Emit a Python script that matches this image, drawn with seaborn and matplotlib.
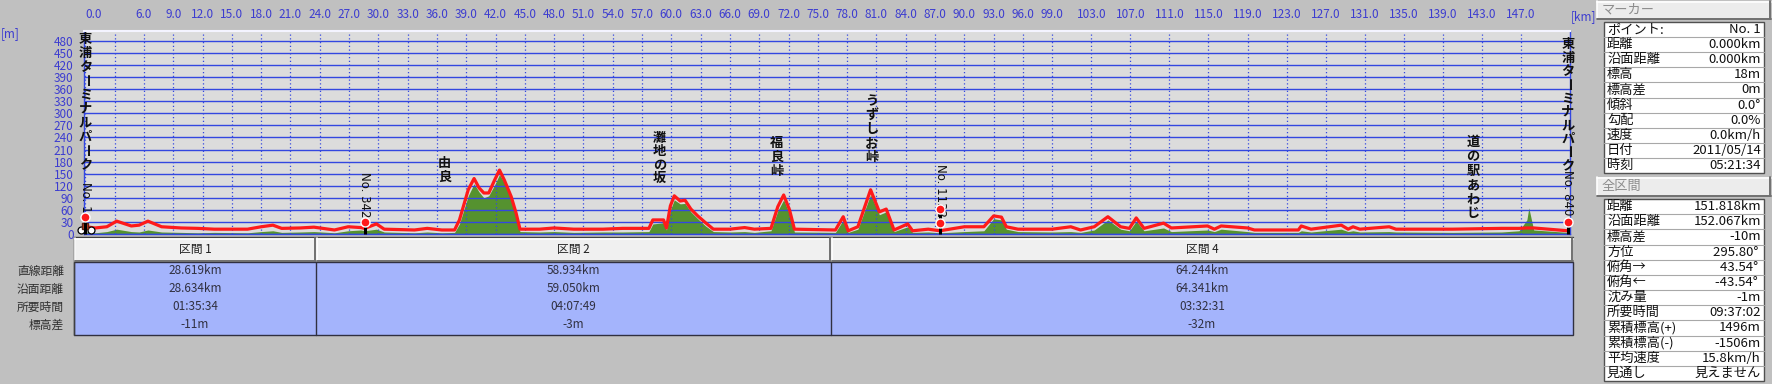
import numpy as np
import pandas as pd
import matplotlib
matplotlib.use("Agg")
import matplotlib.pyplot as plt
import seaborn as sns
from matplotlib.patches import Rectangle
from matplotlib.transforms import blended_transform_factory

# ---------------- data ----------------
dist_km = [0.0, 1.0, 2.2, 3.2, 4.7, 5.5, 6.4, 7.8, 9.8, 11.5,
           13.2, 16.6, 18.0, 19.2, 20.1, 22.0, 23.4, 24.9, 25.5, 26.9,
           28.2, 28.6, 29.8, 30.6, 33.7, 35.0, 36.5, 37.8, 38.3, 39.2,
           39.8, 40.3, 40.8, 41.3, 41.9, 42.4, 42.9, 43.6, 44.1, 44.5,
           46.5, 48.0, 50.0, 53.0, 55.0, 57.7, 58.1, 59.2, 59.5, 59.9,
           60.3, 60.9, 61.4, 62.0, 62.7, 63.5, 64.3, 66.0, 67.5, 68.5,
           70.2, 70.9, 71.5, 72.1, 72.6, 76.8, 77.6, 78.1, 79.1, 80.4,
           81.3, 82.0, 82.8, 84.2, 84.7, 86.3, 87.5, 90.0, 92.0, 93.0,
           93.8, 94.3, 95.5, 99.0, 100.9, 101.9, 103.3, 104.7, 106.0, 106.9,
           107.6, 108.4, 110.4, 111.2, 114.9, 115.6, 116.3, 119.0, 119.7, 124.2,
           124.5, 125.5, 128.6, 129.3, 129.8, 130.5, 133.5, 134.2, 140.0, 145.0,
           146.8, 147.6, 147.8, 148.3, 151.8]
track_elev_m = [18, 15, 18, 32, 20, 22, 32, 18, 15, 14,
                12, 12, 18, 22, 14, 15, 17, 12, 10, 18,
                16, 14, 25, 12, 10, 14, 10, 10, 35, 110,
                138, 115, 102, 102, 134, 159, 134, 93, 52, 12,
                12, 15, 12, 12, 14, 14, 35, 35, 15, 70,
                95, 82, 84, 62, 45, 28, 12, 12, 16, 12,
                14, 68, 97, 60, 12, 10, 43, 8, 18, 110,
                55, 62, 10, 25, 8, 12, 8, 18, 18, 45,
                42, 18, 12, 12, 18, 10, 18, 43, 18, 14,
                40, 14, 27, 15, 20, 12, 20, 15, 10, 10,
                20, 12, 22, 12, 18, 12, 18, 12, 12, 14,
                14, 15, 15, 15, 8]
dem_elev_m = [5, 3, 6, 12, 6, 5, 10, 5, 4, 3,
              4, 3, 6, 8, 4, 5, 6, 4, 3, 8,
              10, 8, 12, 5, 3, 5, 3, 4, 25, 95,
              125, 105, 90, 95, 122, 148, 128, 85, 40, 6,
              5, 6, 4, 5, 5, 6, 25, 28, 10, 60,
              85, 75, 76, 55, 38, 20, 6, 5, 6, 4,
              8, 58, 85, 50, 5, 4, 35, 4, 12, 98,
              48, 55, 6, 18, 4, 5, 3, 6, 8, 38,
              35, 12, 6, 5, 6, 4, 10, 35, 12, 8,
              32, 8, 15, 6, 10, 6, 12, 6, 4, 4,
              8, 5, 12, 6, 8, 5, 6, 5, 4, 5,
              8, 35, 65, 10, 4]

xtick_km = [0, 3, 6, 9, 12, 15, 18, 21, 24, 27, 30, 33, 36, 39, 42, 45, 48, 51, 54,
            57, 60, 63, 66, 69, 72, 75, 78, 81, 84, 87, 90, 93, 96, 99,
            103, 107, 111, 115, 119, 123, 127, 131, 135, 139, 143, 147]
xtick_labels = ["0.0", ""] + [f"{v:.1f}" for v in xtick_km[2:]]
ytick_m = list(range(0, 481, 30))

landmark_names = ["東浦ターミナルパーク", "由良", "灘地の坂", "福良峠", "うずしお峠",
                  "道の駅あわじ", "東浦ターミナルパーク"]
landmark_km = [0.0, 36.8, 58.8, 70.8, 80.5, 142.1, 151.8]

point_names = ["No. 1", "No. 342", "No. 1132", "No. 840"]
section_names = ["区間 1", "区間 2", "区間 4"]
section_dist = ["28.619km", "58.934km", "64.244km"]
section_surface = ["28.634km", "59.050km", "64.341km"]
section_time = ["01:35:34", "04:07:49", "03:32:31"]
section_elev_diff = ["-11m", "-3m", "-32m"]
section_km = [28.619, 58.934, 64.244]
row_labels = ["直線距離", "沿面距離", "所要時間", "標高差"]

marker_labels = ["ポイント:", "距離", "沿面距離", "標高", "標高差", "傾斜", "勾配",
                 "速度", "日付", "時刻"]
marker_values = ["No. 1", "0.000km", "0.000km", "18m", "0m", "0.0°", "0.0%",
                 "0.0km/h", "2011/05/14", "05:21:34"]
total_labels = ["距離", "沿面距離", "標高差", "方位", "俯角→", "俯角←", "沈み量",
                "所要時間", "累積標高(+)", "累積標高(-)", "平均速度", "見通し"]
total_values = ["151.818km", "152.067km", "-10m", "295.80° ", "43.54° ", "-43.54° ",
                "-1m", "09:37:02", "1496m", "-1506m", "15.8km/h", "見えません"]

# ---------------- style ----------------
W, H = 1772, 384
sns.set_style("white")
plt.rcParams['font.family'] = ['Noto Sans CJK JP', 'DejaVu Sans']

BG = "#c0c0c0"
PLOT_BG = "#dcdcdc"
BLUE = "#3347e0"
TICK_BLUE = "#3c3cd0"
RED = "#ff1a1a"
GREEN = "#55922f"
TABLE_BLUE = "#a4b4fc"

fig = plt.figure(figsize=(W / 100, H / 100), dpi=100, facecolor=BG)
ov = fig.add_axes([0, 0, 1, 1], zorder=0)
ov.set_xlim(0, W)
ov.set_ylim(H, 0)
ov.axis('off')

L, R, T, B = 84, 1570, 31, 234
ax = fig.add_axes([L / W, 1 - B / H, (R - L) / W, (B - T) / H], zorder=1)
ax.set_facecolor(PLOT_BG)
px_per_km = 9.766
x0_px = 85.4
ax.set_xlim((L - x0_px) / px_per_km, (R - x0_px) / px_per_km)
ax.set_ylim(0, (B - T) / 0.4021)

df = pd.DataFrame({"km": dist_km, "track": track_elev_m, "dem": dem_elev_m})
ax.fill_between(df["km"], 0, df["dem"], color=GREEN, lw=0, zorder=1)
sns.lineplot(data=df, x="km", y="track", ax=ax, color=RED, lw=2.3,
             sort=False, estimator=None, zorder=3)

ax.set_axisbelow('line')
ax.set_xticks(xtick_km)
ax.set_xticklabels(xtick_labels)
ax.set_yticks(ytick_m)
ax.set_yticklabels([str(v) for v in ytick_m])
ax.xaxis.tick_top()
ax.tick_params(axis='x', length=0, pad=7, labelsize=8.5, labelcolor=TICK_BLUE)
ax.tick_params(axis='y', length=0, pad=7.5, labelsize=8.5, labelcolor=TICK_BLUE)
ax.get_xticklabels()[0].set_ha('left')
ax.xaxis.grid(True, color=BLUE, lw=0.9, ls=(0, (1, 2)))
ax.yaxis.grid(True, color=BLUE, lw=1.0, ls='-')
ax.set_xlabel("")
ax.set_ylabel("")
for s in ax.spines.values():
    s.set_color(BLUE)
    s.set_linewidth(1.0)
ax.spines['top'].set_color("#f4f4ff")
ax.spines['top'].set_linewidth(1.5)

ov.text(10, 34, "[m]", color=TICK_BLUE, fontsize=8.5, ha='center', va='center')
ov.text(1584, 17, "[km]", color=TICK_BLUE, fontsize=8.5, ha='center', va='center')

tr = blended_transform_factory(ax.transData, ov.transData)

# vertical landmark labels
label_top_px = [39, 163, 138, 143, 101, 142, 44]
label_step_px = [13.9, 14, 13.3, 14, 14, 14.3, 13.5]
for name, km, top, step in zip(landmark_names, landmark_km, label_top_px, label_step_px):
    for i, ch in enumerate(name):
        ax.text(km, top + i * step, ch, rotation=(-90 if ch == "ー" else 0),
                ha='center', va='center', fontsize=9.5, fontweight='bold',
                color="#101010", transform=tr, clip_on=False, zorder=5)

# point numbers (rotated)
point_km = list(np.cumsum([0.0] + section_km))
point_text_center_px = [197, 195, 190, 193]
for name, km, yc in zip(point_names, point_km, point_text_center_px):
    ax.text(km, yc, name, rotation=-90, ha='center', va='center', fontsize=8.5,
            color="#101010", transform=tr, clip_on=False, zorder=5,
            family=['DejaVu Sans'])

# pins
pin_heights = [42, 30, 62, 30]
# small bicycle icon at start
ax.plot([point_km[0] - 0.45, point_km[0] + 0.55], [9, 9], ls='none', marker='o', ms=5,
        mfc="white", mec="black", mew=0.9, zorder=6, clip_on=False)
ax.plot([point_km[0]], [20], marker='s', ms=4, mfc="#c04020", mec="#602010",
        zorder=6, clip_on=False)
for km, h in zip(point_km, pin_heights):
    ax.plot([km, km], [0, h], color="black", lw=2.2, zorder=6, clip_on=False,
            solid_capstyle='butt')
    ax.plot([km], [h], marker='o', ms=6.5, mfc=RED, mec="white", mew=1.0,
            zorder=7, clip_on=False)
ax.plot([point_km[2]], [27], marker='o', ms=6.5, mfc=RED, mec="white", mew=1.0,
        zorder=7, clip_on=False)


# ---------------- bottom table ----------------
def button(x0, y0, x1, y1, face="#f0f0f0"):
    ov.add_patch(Rectangle((x0, y0), x1 - x0, y1 - y0, facecolor=face, edgecolor='none'))
    ov.plot([x0, x1], [y0 + 0.5, y0 + 0.5], color="white", lw=1.2)
    ov.plot([x0 + 0.5, x0 + 0.5], [y0, y1], color="white", lw=1.2)
    ov.plot([x0, x1], [y1 - 0.5, y1 - 0.5], color="#707070", lw=1.4)
    ov.plot([x1 - 0.5, x1 - 0.5], [y0, y1], color="#707070", lw=1.4)


col_edges = [74, 316, 831, 1573]
ov.plot([74, 1573], [237, 237], color="#404040", lw=1)
ov.plot([74, 74], [237, 335], color="#404040", lw=1)
for i in range(3):
    button(col_edges[i] + 1, 238, col_edges[i + 1], 261)
    cx = (col_edges[i] + col_edges[i + 1]) / 2
    ov.text(cx, 249.5, section_names[i], ha='center', va='center', fontsize=8.5,
            color="#202020")
ov.add_patch(Rectangle((74, 261.5), 1573 - 74, 335 - 261.5, facecolor=TABLE_BLUE,
                       edgecolor="#303040", lw=1.0))
for xe in col_edges[1:3]:
    ov.plot([xe, xe], [261.5, 335], color="#303040", lw=1.0)
row_y = [271, 289, 307, 325]
cols = [section_dist, section_surface, section_time, section_elev_diff]
for r, (lab, vals) in enumerate(zip(row_labels, cols)):
    ov.text(64, row_y[r], lab, ha='right', va='center', fontsize=8.5, color="#303030")
    for i in range(3):
        cx = (col_edges[i] + col_edges[i + 1]) / 2
        ov.text(cx, row_y[r], vals[i], ha='center', va='center', fontsize=8.5,
                color="#303040")


# ---------------- right panel ----------------
def info_table(y0, y1, labels, values):
    x0, x1 = 1604, 1764
    ov.add_patch(Rectangle((x0, y0), x1 - x0, y1 - y0, facecolor="white",
                           edgecolor="#505050", lw=1.0))
    n = len(labels)
    h = (y1 - y0) / n
    for i in range(1, n):
        ov.plot([x0, x1], [y0 + i * h, y0 + i * h], color="#a8a8a8", lw=0.8)
    for i, (lab, val) in enumerate(zip(labels, values)):
        yc = y0 + (i + 0.5) * h
        ov.text(x0 + 3, yc, lab, ha='left', va='center', fontsize=9.5, color="#101010")
        ov.text(x1 - 3, yc, val, ha='right', va='center', fontsize=9.5, color="#101010")


button(1597, 1, 1771, 19, face="#ececec")
ov.text(1602, 10, "マーカー", ha='left', va='center', fontsize=9.5, color="#8c8c8c")
info_table(22, 173, marker_labels, marker_values)
button(1597, 177, 1771, 196, face="#ececec")
ov.text(1602, 186.5, "全区間", ha='left', va='center', fontsize=9.5, color="#8c8c8c")
info_table(199, 381, total_labels, total_values)

fig.savefig("out.png", dpi=100, facecolor=BG)
